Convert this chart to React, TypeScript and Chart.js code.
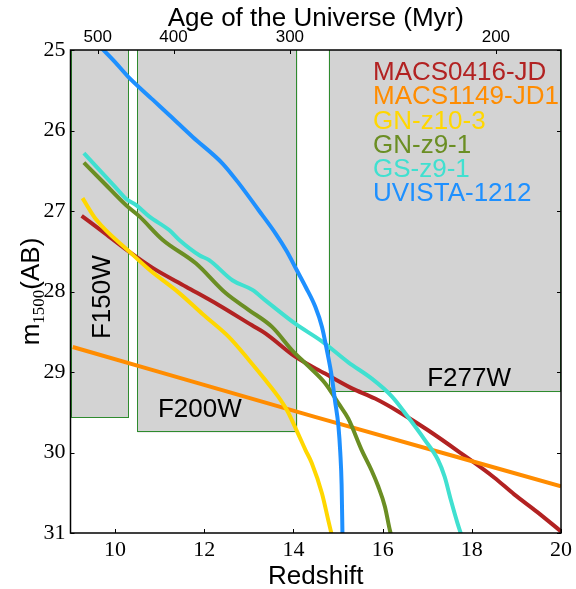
import React, { useEffect, useRef } from 'react';
import { Chart, registerables } from 'chart.js';

Chart.register(...registerables);

// ---- series ----
const seriesNames = ['MACS0416-JD', 'MACS1149-JD1', 'GN-z10-3', 'GN-z9-1', 'GS-z9-1', 'UVISTA-1212'];
const seriesColors = ['#B22222', '#FF8C00', '#FFD700', '#6B8E23', '#40E0D0', '#1E90FF'];

const macs0416Z = [9.25, 9.73, 10.25, 10.85, 11.59, 12.33, 13.07, 13.37, 14.04, 14.71, 15.3, 15.83, 16.35, 17.01, 17.76, 18.5, 18.95, 19.47, 20.0];
const macs0416M = [27.06, 27.26, 27.48, 27.71, 27.94, 28.17, 28.42, 28.52, 28.81, 29.02, 29.2, 29.33, 29.49, 29.72, 30.01, 30.31, 30.52, 30.74, 30.98];

const macs1149Z = [9.05, 14.5, 20.0];
const macs1149M = [28.69, 29.56, 30.42];

const gnz103Z = [9.27, 9.58, 10.33, 10.77, 11.44, 11.96, 12.56, 13.0, 13.37, 13.65, 13.87, 14.09, 14.27, 14.41, 14.64, 14.78, 14.87];
const gnz103M = [26.84, 27.11, 27.51, 27.73, 28.02, 28.28, 28.57, 28.85, 29.1, 29.3, 29.49, 29.75, 29.97, 30.13, 30.51, 30.84, 31.05];

const gnz91Z = [9.3, 9.73, 10.25, 10.55, 11.07, 11.81, 12.48, 13.0, 13.52, 13.97, 14.34, 14.71, 15.01, 15.23, 15.53, 15.75, 15.9, 16.05, 16.16, 16.2];
const gnz91M = [26.4, 26.64, 26.93, 27.07, 27.36, 27.65, 28.02, 28.23, 28.44, 28.73, 28.93, 29.14, 29.39, 29.58, 29.97, 30.22, 30.42, 30.67, 30.96, 31.05];

const gsz91Z = [9.3, 9.6, 10.0, 10.25, 10.48, 10.77, 11.22, 11.44, 11.89, 12.11, 12.63, 13.08, 13.37, 14.04, 14.64, 15.23, 15.75, 16.2, 16.57, 16.94, 17.24, 17.39, 17.53, 17.68, 17.78];
const gsz91M = [26.28, 26.46, 26.7, 26.85, 26.93, 27.07, 27.24, 27.36, 27.55, 27.61, 27.86, 27.98, 28.11, 28.4, 28.62, 28.88, 29.08, 29.3, 29.56, 29.84, 30.09, 30.3, 30.59, 30.88, 31.05];

const uvistaZ = [9.65, 10.0, 10.29, 10.85, 11.22, 11.74, 12.41, 12.78, 13.22, 13.6, 13.85, 14.07, 14.28, 14.49, 14.64, 14.75, 14.86, 14.93, 15.01, 15.05, 15.08, 15.1];
const uvistaM = [24.95, 25.15, 25.33, 25.62, 25.81, 26.08, 26.41, 26.66, 26.99, 27.28, 27.5, 27.73, 27.95, 28.19, 28.44, 28.73, 29.06, 29.35, 29.68, 30.0, 30.4, 31.05];

const seriesZ = [macs0416Z, macs1149Z, gnz103Z, gnz91Z, gsz91Z, uvistaZ];
const seriesM = [macs0416M, macs1149M, gnz103M, gnz91M, gsz91M, uvistaM];

// ---- axes ----
const redshiftTicks = [10, 12, 14, 16, 18, 20];
const magTicks = [25, 26, 27, 28, 29, 30, 31];
const ageTickLabels = [500, 400, 300, 200];
const ageTickRedshifts = [9.61, 11.31, 13.92, 18.54];

// ---- filter depth boxes ----
const filterNames = ['F150W', 'F200W', 'F277W'];
const filterZStart = [9.0, 10.5, 14.79];
const filterZEnd = [10.29, 14.09, 20.0];
const filterMagLimit = [29.57, 29.75, 29.25];
const filterLabelZ = [9.73, 11.9, 17.94];
const filterLabelM = [28.07, 29.47, 29.08];

const SANS = '"Liberation Sans", Arial, sans-serif';
const SERIF = '"Liberation Serif", "Times New Roman", serif';

const customPlugin = {
  id: 'custom',
  beforeDatasetsDraw(chart: any) {
    const { ctx, chartArea: a, scales } = chart;
    const x = scales.x;
    const y = scales.y;
    ctx.save();
    ctx.beginPath();
    ctx.rect(a.left, a.top, a.right - a.left, a.bottom - a.top);
    ctx.clip();
    filterNames.forEach((_, i) => {
      const x0 = x.getPixelForValue(filterZStart[i]);
      const x1 = x.getPixelForValue(filterZEnd[i]);
      const y0 = y.getPixelForValue(25);
      const y1 = y.getPixelForValue(filterMagLimit[i]);
      ctx.fillStyle = '#d3d3d3';
      ctx.fillRect(x0, y0, x1 - x0, y1 - y0);
      ctx.strokeStyle = '#2e8b2e';
      ctx.lineWidth = 1;
      ctx.strokeRect(Math.round(x0) + 0.5, Math.round(y0) - 1.5, Math.round(x1 - x0) - 1, Math.round(y1 - y0) + 1);
    });
    ctx.fillStyle = '#000';
    ctx.font = '26px ' + SANS;
    ctx.textAlign = 'center';
    ctx.textBaseline = 'middle';
    filterNames.forEach((name, i) => {
      const px = x.getPixelForValue(filterLabelZ[i]);
      const py = y.getPixelForValue(filterLabelM[i]);
      ctx.save();
      ctx.translate(px, py);
      if (i === 0) ctx.rotate(-Math.PI / 2);
      ctx.fillText(name, 0, 0);
      ctx.restore();
    });
    ctx.restore();
  },
  afterDatasetsDraw(chart: any) {
    const { ctx, chartArea: a, scales } = chart;
    const x = scales.x;
    const y = scales.y;
    ctx.save();
    // frame
    ctx.strokeStyle = '#000';
    ctx.lineWidth = 1.5;
    ctx.strokeRect(a.left, a.top, a.right - a.left, a.bottom - a.top);
    // inward ticks
    ctx.lineWidth = 1;
    const tl = 4;
    ctx.beginPath();
    redshiftTicks.forEach((v) => {
      const px = Math.round(x.getPixelForValue(v)) + 0.5;
      ctx.moveTo(px, a.bottom);
      ctx.lineTo(px, a.bottom - tl);
    });
    ageTickRedshifts.forEach((v) => {
      const px = Math.round(x.getPixelForValue(v)) + 0.5;
      ctx.moveTo(px, a.top);
      ctx.lineTo(px, a.top + tl);
    });
    magTicks.forEach((v) => {
      const py = Math.round(y.getPixelForValue(v)) + 0.5;
      ctx.moveTo(a.left, py);
      ctx.lineTo(a.left + tl, py);
      ctx.moveTo(a.right, py);
      ctx.lineTo(a.right - tl, py);
    });
    ctx.stroke();
    // legend (text only)
    ctx.font = '26px ' + SANS;
    ctx.textAlign = 'left';
    ctx.textBaseline = 'middle';
    seriesNames.forEach((name, i) => {
      ctx.fillStyle = seriesColors[i];
      ctx.fillText(name, a.right - 188, a.top + 23 + i * 24.2);
    });
    // y-axis title with subscript
    const cx = 30;
    const cy = (a.top + a.bottom) / 2;
    ctx.translate(cx, cy);
    ctx.rotate(-Math.PI / 2);
    ctx.fillStyle = '#000';
    ctx.textBaseline = 'alphabetic';
    ctx.font = '26px ' + SANS;
    const wm = ctx.measureText('m').width;
    const wab = ctx.measureText('(AB)').width;
    ctx.font = '17px ' + SERIF;
    const ws = ctx.measureText('1500').width;
    const total = wm + ws + wab;
    let ux = -total / 2;
    const base = 9;
    ctx.font = '26px ' + SANS;
    ctx.fillText('m', ux, base);
    ux += wm;
    ctx.font = '17px ' + SERIF;
    ctx.fillText('1500', ux, base + 5);
    ux += ws;
    ctx.font = '26px ' + SANS;
    ctx.fillText('(AB)', ux, base);
    ctx.restore();
  },
};

export default function App() {
  const ref = useRef<HTMLCanvasElement | null>(null);
  useEffect(() => {
    if (!ref.current) return;
    const datasets = seriesNames.map((name, i) => ({
      label: name,
      data: seriesZ[i].map((z, j) => ({ x: z, y: seriesM[i][j] })),
      borderColor: seriesColors[i],
      backgroundColor: seriesColors[i],
      borderWidth: 4,
      pointRadius: 0,
      cubicInterpolationMode: 'monotone',
      fill: false,
      clip: 0,
      order: seriesNames.length - i,
      xAxisID: 'x',
      yAxisID: 'y',
    }));
    const chart = new Chart(ref.current, {
      type: 'line',
      data: { datasets },
      options: {
        animation: false,
        responsive: false,
        maintainAspectRatio: false,
        layout: { padding: { left: 0, right: 12, top: 0, bottom: 0 } },
        plugins: { legend: { display: false }, tooltip: { enabled: false } },
        scales: {
          x: {
            type: 'linear',
            position: 'bottom',
            min: 9,
            max: 20,
            grid: { display: false, drawTicks: false },
            border: { display: false },
            afterBuildTicks: (s: any) => {
              s.ticks = redshiftTicks.map((v) => ({ value: v }));
            },
            afterFit: (s: any) => {
              s.height = 56;
            },
            ticks: {
              autoSkip: false,
              maxRotation: 0,
              padding: 4,
              color: '#000',
              font: { family: SERIF, size: 22 },
              callback: (v: any) => String(v),
            },
            title: {
              display: true,
              text: 'Redshift',
              color: '#000',
              font: { family: SANS, size: 26, lineHeight: 1 },
              padding: { top: 0, bottom: -1 },
            },
          },
          x2: {
            type: 'linear',
            position: 'top',
            min: 9,
            max: 20,
            grid: { display: false, drawTicks: false },
            border: { display: false },
            afterBuildTicks: (s: any) => {
              s.ticks = ageTickRedshifts.map((v) => ({ value: v }));
            },
            afterFit: (s: any) => {
              s.height = 50;
            },
            ticks: {
              autoSkip: false,
              maxRotation: 0,
              padding: 2,
              color: '#000',
              font: { family: SANS, size: 17 },
              callback: (_v: any, idx: number) => String(ageTickLabels[idx]),
            },
            title: {
              display: true,
              text: 'Age of the Universe (Myr)',
              color: '#000',
              font: { family: SANS, size: 26, lineHeight: 1 },
              padding: { top: 6, bottom: 0 },
            },
          },
          y: {
            type: 'linear',
            position: 'left',
            reverse: true,
            min: 25,
            max: 31,
            grid: { display: false, drawTicks: false },
            border: { display: false },
            afterBuildTicks: (s: any) => {
              s.ticks = magTicks.map((v) => ({ value: v }));
            },
            afterFit: (s: any) => {
              s.width = 70.5;
            },
            ticks: {
              autoSkip: false,
              padding: 5,
              color: '#000',
              font: { family: SERIF, size: 22 },
              callback: (v: any) => String(v),
            },
          },
        },
      },
      plugins: [customPlugin],
    } as any);
    return () => chart.destroy();
  }, []);
  return (
    <div style={{ position: 'absolute', left: 0, top: 0, width: 576, height: 589 }}>
      <canvas ref={ref} width={576} height={589} style={{ display: 'block', width: 576, height: 589 }} />
    </div>
  );
}
